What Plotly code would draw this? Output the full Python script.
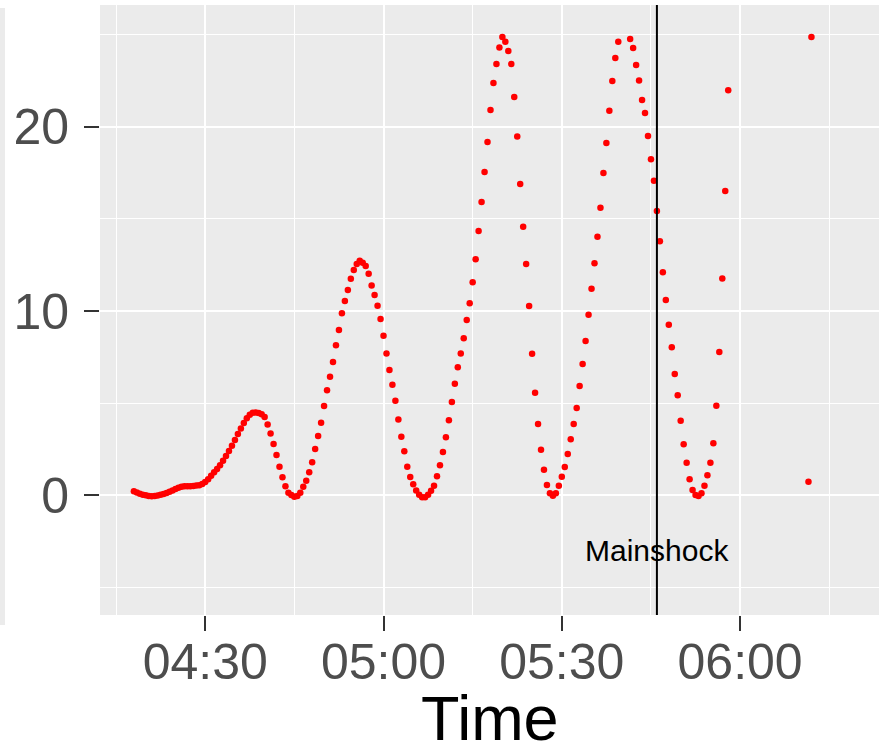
import plotly.graph_objects as go
import pandas as pd

# ---- data ----
start_time = "2011-03-11 04:18:00"   # first sample
step = "30s"                          # sampling interval
values = [
    0.22, 0.15, 0.09, 0.03, 0.00, -0.04, -0.05, -0.03, -0.01, 0.03,
    0.08, 0.13, 0.19, 0.26, 0.34, 0.41, 0.47, 0.50, 0.50, 0.50,
    0.51, 0.53, 0.55, 0.62, 0.73, 0.88, 1.06, 1.25, 1.43, 1.64,
    1.88, 2.13, 2.40, 2.69, 3.00, 3.33, 3.63, 3.92, 4.18, 4.37,
    4.48, 4.50, 4.47, 4.40, 4.25, 3.85, 3.36, 2.78, 2.19, 1.55,
    0.98, 0.50, 0.14, 0.02, -0.07, -0.04, 0.14, 0.47, 0.79, 1.26,
    1.80, 2.51, 3.22, 3.94, 4.85, 5.70, 6.44, 7.23, 8.14, 8.97,
    9.88, 10.54, 11.14, 11.75, 12.22, 12.55, 12.73, 12.62, 12.44, 12.02,
    11.39, 10.87, 10.29, 9.57, 8.66, 7.70, 6.80, 6.00, 5.13, 4.12,
    3.18, 2.39, 1.55, 0.99, 0.60, 0.27, 0.03, -0.10, -0.10, 0.03,
    0.25, 0.52, 1.03, 1.63, 2.35, 3.15, 4.07, 5.06, 6.06, 6.95,
    7.70, 8.52, 9.51, 10.42, 11.56, 12.81, 14.34, 15.91, 17.54, 19.17,
    20.91, 22.37, 23.40, 24.29, 24.87, 24.60, 24.11, 23.40, 21.61, 19.46,
    16.89, 14.57, 12.55, 10.27, 7.68, 5.57, 3.87, 2.47, 1.39, 0.56,
    0.12, -0.02, 0.12, 0.52, 1.01, 1.54, 2.24, 3.05, 3.87, 4.74,
    5.93, 7.12, 8.37, 9.80, 11.21, 12.59, 14.03, 15.60, 17.49, 19.12,
    20.87, 22.48, 23.73, 24.61, None, None, None, 24.76, 24.27, 23.35,
    22.50, 21.45, 20.74, 19.50, 18.23, 17.07, 15.43, 13.78, 12.10, 10.60,
    9.26, 8.03, 6.58, 5.43, 4.05, 2.77, 1.77, 0.88, 0.29, 0.02,
    -0.04, 0.11, 0.52, 1.09, 1.77, 2.82, 4.86, 7.78, 11.77, 16.51,
    21.97, None, None, None, None, None, None, None, None, None,
    None, None, None, None, None, None, None, None, None, None,
    None, None, None, None, None, None, None, 0.74, 24.87,
]
mainshock_time = "2011-03-11 05:46:00"
mainshock_label = "Mainshock"
x_title = "Time"
x_major = ["2011-03-11 04:30", "2011-03-11 05:00", "2011-03-11 05:30", "2011-03-11 06:00"]
x_major_text = ["04:30", "05:00", "05:30", "06:00"]
x_minor = ["2011-03-11 04:15", "2011-03-11 04:45", "2011-03-11 05:15",
           "2011-03-11 05:45", "2011-03-11 06:15"]
y_major = [0, 10, 20]
y_minor = [-5, 5, 15, 25]

times = pd.date_range(start=start_time, periods=len(values), freq=step)

fig = go.Figure()
fig.add_trace(go.Scatter(
    x=times, y=values, mode="markers",
    marker=dict(color="#FF0000", size=6.5, line=dict(width=0)),
    showlegend=False, hoverinfo="skip",
))

fig.add_shape(type="line", xref="x", yref="paper",
              x0=mainshock_time, x1=mainshock_time, y0=0, y1=1,
              line=dict(color="black", width=2), layer="above")
fig.add_annotation(x=mainshock_time, y=-3, text=mainshock_label, showarrow=False,
                   xanchor="center", yanchor="middle",
                   font=dict(size=30, color="black"))

# axis title placed below tick labels, box bottom at the figure's bottom edge
fig.add_annotation(xref="paper", yref="paper", x=0.5, y=-140 / 610, text=x_title,
                   showarrow=False, xanchor="center", yanchor="bottom",
                   font=dict(size=63, color="black"))

# fragment of neighbouring panel at the far left edge
fig.add_shape(type="rect", xref="paper", yref="paper",
              x0=-100 / 779, x1=-95 / 779, y0=-10 / 610, y1=607 / 610,
              fillcolor="#EBEBEB", line=dict(width=0), layer="below")

tickfont = dict(size=50, color="#4D4D4D")
fig.update_layout(
    width=879, height=755,
    margin=dict(l=100, r=0, t=5, b=140),
    paper_bgcolor="white", plot_bgcolor="#EBEBEB",
    font=dict(family="Liberation Sans, Arial, sans-serif"),
    showlegend=False,
    xaxis=dict(
        type="date", automargin=False,
        range=["2011-03-11 04:12:18", "2011-03-11 06:23:22"],
        tickmode="array", tickvals=x_major, ticktext=x_major_text,
        ticks="outside", ticklen=15, tickwidth=1.5, tickcolor="#333333",
        tickfont=tickfont, ticklabelstandoff=-12,
        showgrid=True, gridcolor="white", gridwidth=1.6,
        minor=dict(tickmode="array", tickvals=x_minor, showgrid=True,
                   gridcolor="white", gridwidth=0.8, ticks=""),
        zeroline=False, showline=False,
    ),
    yaxis=dict(
        automargin=False,
        range=[-6.49, 26.60],
        tickmode="array", tickvals=y_major, ticktext=[str(v) for v in y_major],
        ticks="outside", ticklen=15, tickwidth=1.5, tickcolor="#333333",
        tickfont=tickfont, ticklabelstandoff=5,
        showgrid=True, gridcolor="white", gridwidth=1.6,
        minor=dict(tickmode="array", tickvals=y_minor, showgrid=True,
                   gridcolor="white", gridwidth=0.8, ticks=""),
        zeroline=False, showline=False,
    ),
)

fig.write_html("out.html")
